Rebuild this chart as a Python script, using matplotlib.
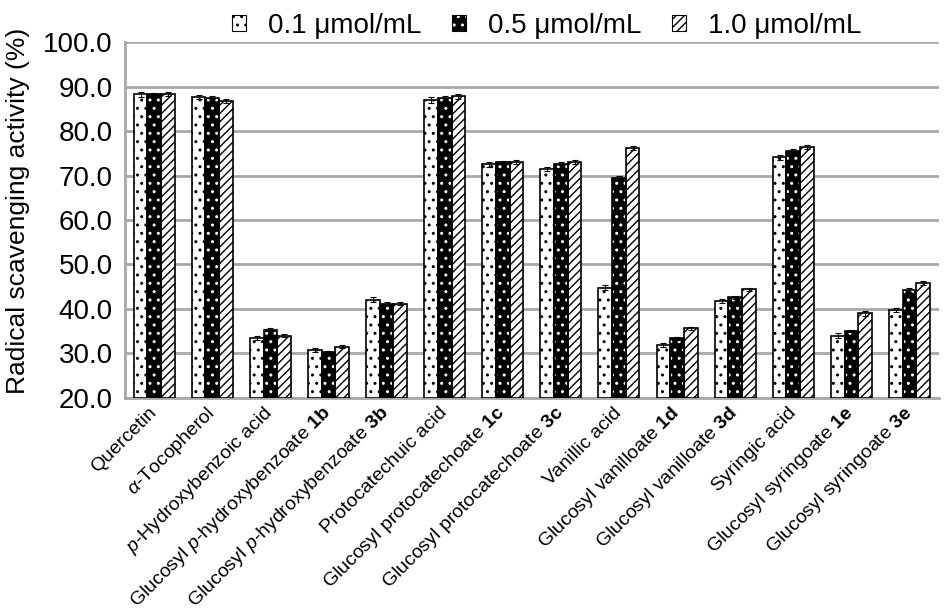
import numpy as np
import matplotlib.pyplot as plt
import matplotlib.transforms as mtransforms
from matplotlib.patches import Patch
from matplotlib.legend_handler import HandlerTuple

plt.rcParams['font.family'] = ['Liberation Sans', 'DejaVu Sans']
plt.rcParams['mathtext.fontset'] = 'custom'
plt.rcParams['mathtext.rm'] = 'Liberation Sans'
plt.rcParams['mathtext.it'] = 'Liberation Sans:italic'
plt.rcParams['mathtext.bf'] = 'Liberation Sans:bold'
plt.rcParams['hatch.linewidth'] = 1.0

# ---- data ----
categories = [
    "Quercetin",
    r"$\alpha$-Tocopherol",
    r"$\it{p}$-Hydroxybenzoic acid",
    r"Glucosyl $\it{p}$-hydroxybenzoate $\bf{1b}$",
    r"Glucosyl $\it{p}$-hydroxybenzoate $\bf{3b}$",
    "Protocatechuic acid",
    r"Glucosyl protocatechoate $\bf{1c}$",
    r"Glucosyl protocatechoate $\bf{3c}$",
    "Vanillic acid",
    r"Glucosyl vanilloate $\bf{1d}$",
    r"Glucosyl vanilloate $\bf{3d}$",
    "Syringic acid",
    r"Glucosyl syringoate $\bf{1e}$",
    r"Glucosyl syringoate $\bf{3e}$",
]
series_labels = ["0.1 \u03bcmol/mL", "0.5 \u03bcmol/mL", "1.0 \u03bcmol/mL"]
vals_01 = [88.3, 87.7, 33.5, 30.8, 42.1, 87.0, 72.5, 71.5, 44.8, 31.9, 41.8, 74.1, 34.0, 39.7]
vals_05 = [88.3, 87.5, 35.3, 30.2, 41.2, 87.5, 73.0, 72.7, 69.5, 33.4, 42.6, 75.6, 35.0, 44.2]
vals_10 = [88.4, 86.8, 34.0, 31.5, 41.2, 87.8, 73.0, 73.0, 76.2, 35.6, 44.4, 76.4, 39.0, 45.8]
err_01 = [0.6, 0.4, 0.5, 0.4, 0.5, 0.6, 0.5, 0.5, 0.6, 0.5, 0.5, 0.6, 0.6, 0.5]
err_05 = [0.3, 0.3, 0.3, 0.3, 0.3, 0.4, 0.3, 0.3, 0.3, 0.3, 0.3, 0.4, 0.3, 0.4]
err_10 = [0.4, 0.4, 0.4, 0.4, 0.4, 0.5, 0.4, 0.4, 0.5, 0.4, 0.4, 0.5, 0.5, 0.5]

fig = plt.figure(figsize=(9.48, 6.12), dpi=100)
ax = fig.add_axes([0.132, 0.35, 0.858, 0.581])

x = np.arange(len(categories))
w = 0.235
styles = [
    dict(facecolor="white", hatch="..", edgecolor="black"),
    dict(facecolor="black", hatch="..", edgecolor="white"),
    dict(facecolor="white", hatch="////", edgecolor="black"),
]
handles = []
for i, (vals, errs) in enumerate(zip([vals_01, vals_05, vals_10],
                                     [err_01, err_05, err_10])):
    pos = x + (i - 1) * w
    ax.bar(pos, np.array(vals) - 20, w, bottom=20, zorder=3,
           linewidth=0, **styles[i])
    # black outline
    ax.bar(pos, np.array(vals) - 20, w, bottom=20, facecolor="none",
           edgecolor="black", linewidth=1.2, zorder=4)
    ax.errorbar(pos, vals, yerr=errs, fmt="none", ecolor="black",
                elinewidth=0.8, capsize=2.5, capthick=0.8, zorder=5)
    handles.append((Patch(linewidth=0, **styles[i]),
                    Patch(facecolor="none", edgecolor="black", linewidth=0.8)))

ax.set_ylim(20, 100)
ax.set_xlim(-0.5, len(categories) - 0.5)
ax.set_yticks(np.arange(20, 101, 10))
ax.set_yticklabels([f"{v:.1f}" for v in np.arange(20, 101, 10)], fontsize=20)
ax.set_xticks(x)
ax.set_xticklabels(categories, rotation=45, ha="right", va="center",
                   rotation_mode="anchor", fontsize=14)
offset = mtransforms.ScaledTranslation(9 / 100, 0, fig.dpi_scale_trans)
for lbl in ax.get_xticklabels():
    lbl.set_transform(lbl.get_transform() + offset)
ax.tick_params(axis="y", length=0, pad=9)
ax.tick_params(axis="x", length=0, pad=9)
ax.set_ylabel("Radical scavenging activity (%)", fontsize=19)
ax.yaxis.set_label_coords(-0.117, 0.525)

ax.grid(axis="y", color="#a8a8a8", linewidth=2, zorder=0)
ax.set_axisbelow(True)
for s in ["top", "right"]:
    ax.spines[s].set_visible(False)
for s in ["left", "bottom"]:
    ax.spines[s].set_color("#a8a8a8")
    ax.spines[s].set_linewidth(2)

fig.legend(handles=handles, labels=series_labels, loc="upper right",
           bbox_to_anchor=(0.935, 1.02), ncol=3, frameon=False, fontsize=20,
           handlelength=0.5, handleheight=0.5, handletextpad=0.8,
           columnspacing=1.1,
           handler_map={tuple: HandlerTuple(ndivide=1, pad=0)})

fig.savefig("out.png", dpi=100)
